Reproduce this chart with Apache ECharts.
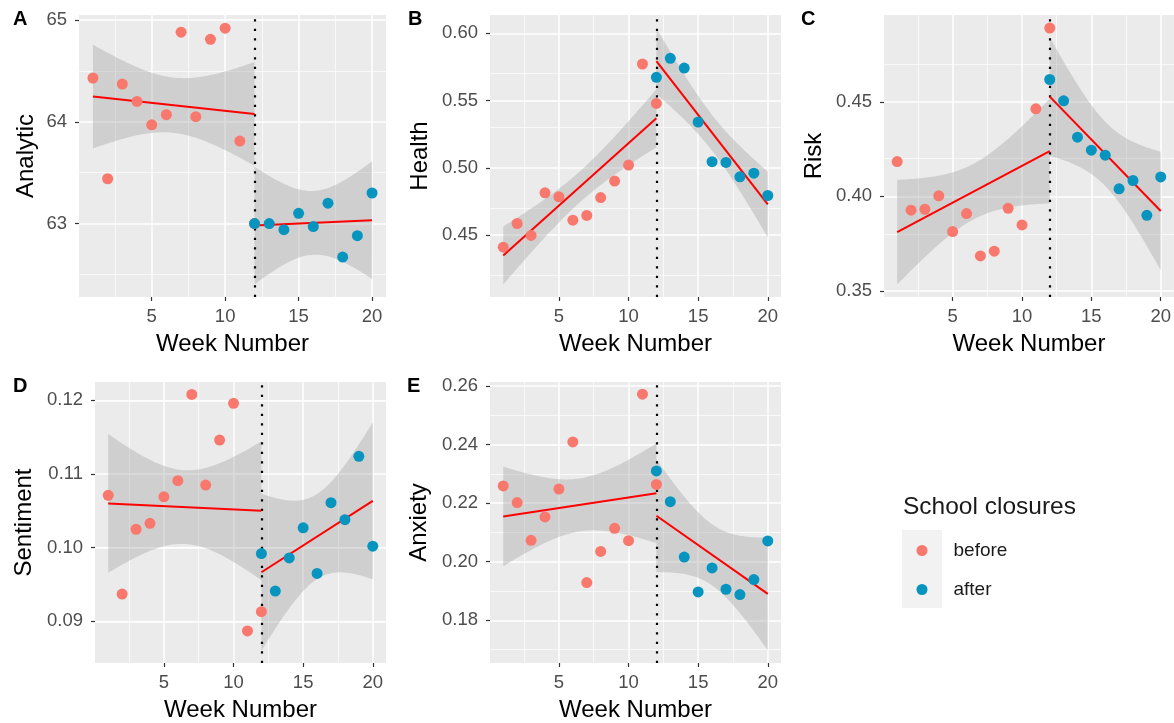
<!DOCTYPE html>
<html>
<head>
<meta charset="utf-8">
<script src="https://cdn.jsdelivr.net/npm/echarts@6/dist/echarts.min.js"></script>
<style>
html,body{margin:0;padding:0;background:#fff;}
#chart{width:1174px;height:723px;}
</style>
</head>
<body>
<div id="chart"></div>
<script>
// ---------- data ----------
const weeksBefore = [1, 2, 3, 4, 5, 6, 7, 8, 9, 10, 11, 12];
const weeksAfter = [12, 13, 14, 15, 16, 17, 18, 19, 20];

const analyticBefore = [64.43, 63.44, 64.37, 64.20, 63.97, 64.07, 64.88, 64.05, 64.81, 64.92, 63.81, 63.00];
const analyticAfter = [63.00, 63.00, 62.94, 63.10, 62.97, 63.20, 62.67, 62.88, 63.30];

const healthBefore = [0.4411, 0.4587, 0.4498, 0.4815, 0.4785, 0.4612, 0.4647, 0.4780, 0.4902, 0.5021, 0.5772, 0.5479];
const healthAfter = [0.5673, 0.5814, 0.5742, 0.5341, 0.5046, 0.5041, 0.4934, 0.4961, 0.4795];

const riskBefore = [0.4184, 0.3927, 0.3932, 0.4003, 0.3814, 0.3909, 0.3685, 0.3710, 0.3937, 0.3849, 0.4463, 0.4890];
const riskAfter = [0.4618, 0.4505, 0.4313, 0.4244, 0.4218, 0.4040, 0.4084, 0.3900, 0.4103];

const sentimentBefore = [0.1071, 0.0937, 0.1025, 0.1033, 0.1069, 0.1091, 0.1208, 0.1085, 0.1146, 0.1196, 0.0887, 0.0913];
const sentimentAfter = [0.0992, 0.0941, 0.0986, 0.1027, 0.0965, 0.1061, 0.1038, 0.1124, 0.1002];

const anxietyBefore = [0.2259, 0.2202, 0.2073, 0.2153, 0.2248, 0.2409, 0.1929, 0.2035, 0.2114, 0.2072, 0.2572, 0.2264];
const anxietyAfter = [0.2310, 0.2205, 0.2016, 0.1897, 0.1979, 0.1906, 0.1888, 0.1939, 0.2071];

const closureWeek = 12;
const groupNames = ['before', 'after'];

const xTicks = [5, 10, 15, 20];
const xMinor = [2.5, 7.5, 12.5, 17.5];
const analyticTicks = [63, 64, 65];
const analyticMinor = [62.5, 63.5, 64.5];
const healthTicks = [0.45, 0.50, 0.55, 0.60];
const healthMinor = [0.425, 0.475, 0.525, 0.575];
const riskTicks = [0.35, 0.40, 0.45];
const riskMinor = [0.375, 0.425, 0.475];
const sentimentTicks = [0.09, 0.10, 0.11, 0.12];
const sentimentMinor = [0.085, 0.095, 0.105, 0.115];
const anxietyTicks = [0.18, 0.20, 0.22, 0.24, 0.26];
const anxietyMinor = [0.17, 0.19, 0.21, 0.23, 0.25];

// critical value of the 95% confidence band of the segmented model
const critValue = 1.96;

// ---------- layout / style ----------
const FONT = '"Liberation Sans", Arial, Helvetica, sans-serif';
const COL_BEFORE = '#F8786D';
const COL_AFTER = '#0795BF';

const panels = [
  {letter: 'A', title: 'Analytic', before: analyticBefore, after: analyticAfter, ticks: analyticTicks, minor: analyticMinor, dec: 0,
   yMin: 62.278, yMax: 65.049, grid: {left: 79, top: 15, width: 307, height: 282}, nameGap: 41, lx: 13, ly: 20},
  {letter: 'B', title: 'Health', before: healthBefore, after: healthAfter, ticks: healthTicks, minor: healthMinor, dec: 2,
   yMin: 0.4041, yMax: 0.6136, grid: {left: 490, top: 15, width: 291, height: 282}, nameGap: 58, lx: 408, ly: 20},
  {letter: 'C', title: 'Risk', before: riskBefore, after: riskAfter, ticks: riskTicks, minor: riskMinor, dec: 2,
   yMin: 0.3468, yMax: 0.4959, grid: {left: 884, top: 15, width: 291, height: 282}, nameGap: 58, lx: 801, ly: 20},
  {letter: 'D', title: 'Sentiment', before: sentimentBefore, after: sentimentAfter, ticks: sentimentTicks, minor: sentimentMinor, dec: 2,
   yMin: 0.08434, yMax: 0.12249, grid: {left: 95, top: 382, width: 291, height: 281}, nameGap: 59, lx: 13, ly: 387},
  {letter: 'E', title: 'Anxiety', before: anxietyBefore, after: anxietyAfter, ticks: anxietyTicks, minor: anxietyMinor, dec: 2,
   yMin: 0.16542, yMax: 0.26137, grid: {left: 490, top: 382, width: 291, height: 281}, nameGap: 59, lx: 407, ly: 387}
];

// least squares line for one segment
function olsLine(xs, ys) {
  const n = xs.length;
  const xbar = xs.reduce((a, b) => a + b, 0) / n;
  const ybar = ys.reduce((a, b) => a + b, 0) / n;
  let sxx = 0, sxy = 0;
  for (let i = 0; i < n; i++) { sxx += (xs[i] - xbar) ** 2; sxy += (xs[i] - xbar) * (ys[i] - ybar); }
  const b = sxy / sxx, a = ybar - b * xbar;
  let sse = 0;
  for (let i = 0; i < n; i++) sse += (ys[i] - a - b * xs[i]) ** 2;
  return {n, xbar, sxx, a, b, sse, x0: Math.min(...xs), x1: Math.max(...xs)};
}
// segmented (interaction) model: separate lines, pooled residual variance
function segmentedFit(groups) {
  const fits = groups.map(g => olsLine(g.xs, g.ys));
  const sse = fits.reduce((s, f) => s + f.sse, 0);
  const df = fits.reduce((s, f) => s + f.n, 0) - 2 * fits.length;
  const s = Math.sqrt(sse / df);
  return fits.map(f => {
    const band = [];
    const N = 80;
    for (let k = 0; k < N; k++) {
      const x = f.x0 + (f.x1 - f.x0) * k / (N - 1);
      const yh = f.a + f.b * x;
      const se = s * Math.sqrt(1 / f.n + (x - f.xbar) ** 2 / f.sxx);
      band.push([x, yh - critValue * se, yh + critValue * se]);
    }
    return {line: [[f.x0, f.a + f.b * f.x0], [f.x1, f.a + f.b * f.x1]], band};
  });
}

const grids = [], xAxes = [], yAxes = [], series = [], graphics = [];

panels.forEach((p, i) => {
  grids.push(Object.assign({show: true, backgroundColor: '#EBEBEB', borderWidth: 0, containLabel: false}, p.grid));
  xAxes.push({
    type: 'value', gridIndex: i, min: 0.05, max: 20.95,
    splitLine: {show: false}, axisLine: {show: false},
    axisTick: {show: true, customValues: xTicks, length: 4, lineStyle: {color: '#333', width: 1.2}},
    axisLabel: {customValues: xTicks, color: '#4D4D4D', fontSize: 18.5, fontFamily: FONT, margin: 10},
    name: 'Week Number', nameLocation: 'middle', nameGap: 35,
    nameTextStyle: {fontSize: 24, color: '#000', fontFamily: FONT}
  });
  yAxes.push({
    type: 'value', gridIndex: i, min: p.yMin, max: p.yMax,
    splitLine: {show: false}, axisLine: {show: false},
    axisTick: {show: true, customValues: p.ticks, length: 4, lineStyle: {color: '#333', width: 1.2}},
    axisLabel: {customValues: p.ticks, color: '#4D4D4D', fontSize: 18.5, fontFamily: FONT, margin: 12,
      formatter: (v) => Number(v).toFixed(p.dec)},
    name: p.title, nameLocation: 'middle', nameGap: p.nameGap, nameRotate: 90,
    nameTextStyle: {fontSize: 24, color: '#000', fontFamily: FONT}
  });

  // grid lines (white major / minor)
  const gl = [];
  xTicks.forEach(v => gl.push({xAxis: v, lineStyle: {color: '#fff', width: 1.5, type: 'solid'}}));
  xMinor.forEach(v => gl.push({xAxis: v, lineStyle: {color: '#fff', width: 0.7, type: 'solid'}}));
  p.ticks.forEach(v => gl.push({yAxis: v, lineStyle: {color: '#fff', width: 1.5, type: 'solid'}}));
  p.minor.forEach(v => gl.push({yAxis: v, lineStyle: {color: '#fff', width: 0.7, type: 'solid'}}));
  series.push({
    type: 'line', xAxisIndex: i, yAxisIndex: i, data: [], silent: true, z: 1,
    markLine: {silent: true, z: 1, symbol: ['none', 'none'], label: {show: false}, animation: false, data: gl}
  });

  const groups = [
    {name: groupNames[0], xs: weeksBefore, ys: p.before, color: COL_BEFORE},
    {name: groupNames[1], xs: weeksAfter, ys: p.after, color: COL_AFTER}
  ];
  const fits = segmentedFit(groups);

  // confidence ribbons
  fits.forEach(f => {
    const rows = f.band;
    series.push({
      type: 'custom', xAxisIndex: i, yAxisIndex: i, z: 2, silent: true, clip: true,
      encode: {x: 0, y: 1}, data: rows,
      renderItem: (params, api) => {
        if (params.dataIndex !== 0) return null;
        const pts = [];
        for (let k = 0; k < rows.length; k++) pts.push(api.coord([rows[k][0], rows[k][2]]));
        for (let k = rows.length - 1; k >= 0; k--) pts.push(api.coord([rows[k][0], rows[k][1]]));
        return {type: 'polygon', shape: {points: pts}, style: {fill: 'rgba(153,153,153,0.34)'}};
      }
    });
  });

  // closure week dotted line
  series.push({
    type: 'line', xAxisIndex: i, yAxisIndex: i, data: [], silent: true, z: 3,
    markLine: {silent: true, z: 3, symbol: ['none', 'none'], label: {show: false}, animation: false,
      lineStyle: {color: '#000', width: 2.2, type: [2.2, 7.3], cap: 'butt'},
      data: [{xAxis: closureWeek}]}
  });

  // regression lines
  fits.forEach(f => {
    series.push({
      type: 'line', xAxisIndex: i, yAxisIndex: i, data: f.line, z: 4, silent: true,
      symbol: 'none', lineStyle: {color: '#FF0000', width: 2}, animation: false
    });
  });

  // points
  groups.forEach(g => {
    series.push({
      name: g.name, type: 'scatter', xAxisIndex: i, yAxisIndex: i, z: 5,
      symbol: 'circle', symbolSize: 11, itemStyle: {color: g.color, opacity: 1},
      data: g.xs.map((x, k) => [x, g.ys[k]]), animation: false
    });
  });

  graphics.push({type: 'text', left: p.lx, top: p.ly - 11,
    style: {text: p.letter, fill: '#000', font: 'bold 20px ' + FONT}});
});

// legend title and key background
graphics.push({type: 'text', left: 903, top: 495,
  style: {text: 'School closures', fill: '#1A1A1A', font: '24.5px ' + FONT}});
graphics.push({type: 'rect', left: 902, top: 530, z: -1,
  shape: {width: 40, height: 78}, style: {fill: '#F2F2F2'}});

const chart = echarts.init(document.getElementById('chart'), null, {renderer: 'canvas'});
chart.setOption({
  backgroundColor: '#fff',
  animation: false,
  textStyle: {fontFamily: FONT},
  grid: grids,
  xAxis: xAxes,
  yAxis: yAxes,
  series: series,
  graphic: {elements: graphics},
  legend: {
    data: groupNames, orient: 'vertical', left: 911.5, top: 536, icon: 'circle', padding: 5,
    itemWidth: 11, itemHeight: 11, itemGap: 20, selectedMode: false,
    textStyle: {fontSize: 19, color: '#1A1A1A', fontFamily: FONT, padding: [0, 0, 0, 21]}
  }
});
</script>
</body>
</html>
